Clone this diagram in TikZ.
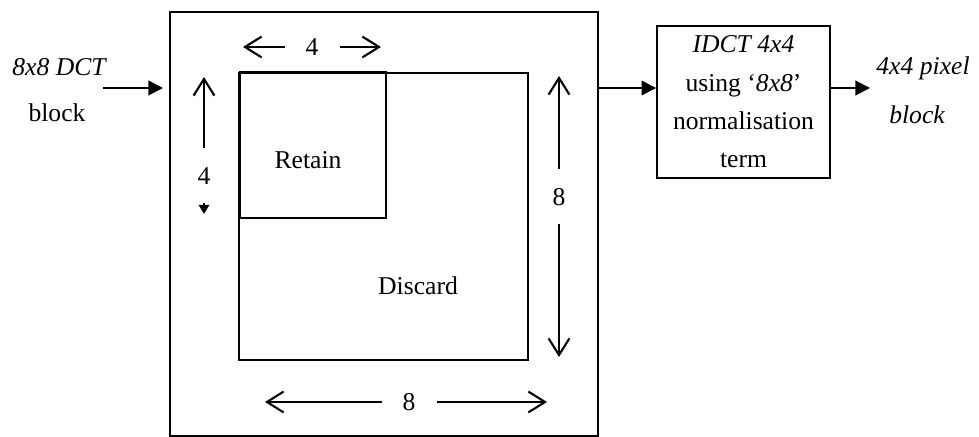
\documentclass[tikz,border=0pt]{standalone}
\usepackage{fontspec}
\setmainfont{Liberation Serif}
\usetikzlibrary{arrows.meta}
\begin{document}
\begin{tikzpicture}[x=0.48pt, y=-0.48pt, font=\fontsize{12.3}{18.4}\selectfont,
    flow/.style={line width=1pt, -{Triangle[length=7pt, width=7pt]}},
    dim/.style={line width=1pt, -{Straight Barb[length=8pt, width=10pt]}},
    dimlabel/.style={circle, minimum size=26pt, inner sep=0pt}]
    \useasboundingbox (0,0) rectangle (979,437);
    \draw [line width=0.9pt] (170,12) rectangle (598,436);
    \draw [line width=0.9pt] (239,73) rectangle (528,360);
    \draw [line width=0.9pt] (240,72) rectangle (386,218);
    \node (retain) at (308,160) {Retain};
    \node (discard) at (418,286) {Discard};
    \node (dctText) at (59,67) {\itshape 8x8 DCT};
    \node (dctBlock) at (57,113) {block};
    \node (pixText) at (923,68) {\itshape 4x4 pixel};
    \node (pixBlock) at (917,115) {\itshape block};
    \node [draw, line width=0.9pt, align=center, minimum width=83pt, minimum height=73pt, inner sep=0pt] (idct) at (743.5,102)
        {\itshape IDCT 4x4\\using `\textit{8x8}'\\normalisation\\term};
    \coordinate (inStart) at (103,88);
    \coordinate (inEnd) at (163,88);
    \coordinate (outerE) at (598,88);
    \coordinate (outEnd) at (870,88);
    \draw [flow] (inStart) -- (inEnd);
    \draw [flow] (outerE) -- (outerE -| idct.west);
    \draw [flow] (idct.east |- outEnd) -- (outEnd);
    \node [dimlabel] (topFour) at (312,47) {4};
    \coordinate (topFourL) at (243,47);
    \coordinate (topFourR) at (381,47);
    \draw [dim] (topFour) -- (topFourL);
    \draw [dim] (topFour) -- (topFourR);
    \node [dimlabel] (leftFour) at (204,176) {4};
    \coordinate (leftFourT) at (204,77);
    \coordinate (leftFourB) at (204,214);
    \draw [dim] (leftFour) -- (leftFourT);
    \draw [line width=1pt, -{Triangle[length=4.4pt, width=5pt]}] (leftFour) -- (leftFourB);
    \node [dimlabel] (rightEight) at (559,197) {8};
    \coordinate (rightEightT) at (559,76);
    \coordinate (rightEightB) at (559,357);
    \draw [dim] (rightEight) -- (rightEightT);
    \draw [dim] (rightEight) -- (rightEightB);
    \node [dimlabel] (botEight) at (409,402) {8};
    \coordinate (botEightL) at (265,402);
    \coordinate (botEightR) at (547,402);
    \draw [dim] (botEight) -- (botEightL);
    \draw [dim] (botEight) -- (botEightR);
\end{tikzpicture}
\end{document}
